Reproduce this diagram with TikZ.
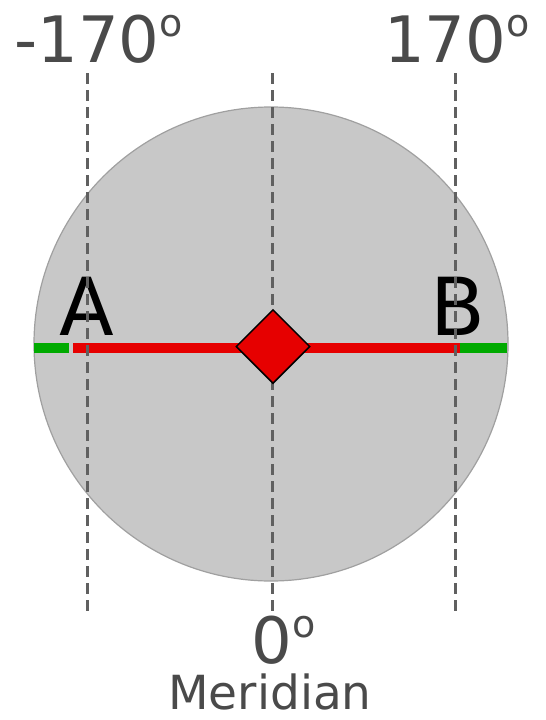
\documentclass[tikz,border=0pt]{standalone}
\usepackage{fontspec}
\setmainfont{DejaVu Sans}
\usetikzlibrary{shapes.geometric}
\definecolor{lblgray}{HTML}{4A4A4A}
\definecolor{dashgray}{HTML}{606060}
\definecolor{discgray}{HTML}{C8C8C8}
\definecolor{discedge}{HTML}{A0A0A0}
\definecolor{redline}{HTML}{E60000}
\definecolor{greenline}{HTML}{00AA00}
\newcommand{\degsign}{\raisebox{26pt}{\fontsize{38}{38}\selectfont o}}
\tikzset{
  meridianline/.style={draw=dashgray, line width=3pt, dash pattern=on 11pt off 6pt},
  redseg/.style={draw=redline, line width=9.5pt},
  greenseg/.style={draw=greenline, line width=9.5pt},
  biglabel/.style={font=\fontsize{64}{64}\selectfont, text=lblgray, inner sep=0pt, anchor=base},
  pointlabel/.style={font=\fontsize{80}{80}\selectfont, text=black, inner sep=0pt, anchor=base},
}
\begin{document}
\begin{tikzpicture}[x=1pt,y=-1pt]
\useasboundingbox (0,0) rectangle (546,720);
% disc
\node[circle, fill=discgray, draw=discedge, line width=1.2pt, minimum size=474pt, inner sep=0pt] (disc) at (271,344) {};
% equator segments
\coordinate (gl1) at (34,348);
\coordinate (gl2) at (69,348);
\coordinate (r1) at (73,348);
\coordinate (r2) at (460,348);
\coordinate (gr2) at (507,348);
\draw[greenseg] (gl1) -- (gl2);
\draw[redseg] (r1) -- (r2);
\draw[greenseg] (r2) -- (gr2);
% point labels
\node[pointlabel] (A) at (87,335) {A};
\node[pointlabel] (B) at (458,335) {B};
% dashed meridians
\coordinate (mlt) at (87,73);  \coordinate (mlb) at (87,612);
\coordinate (mct) at (272,73); \coordinate (mcb) at (272,612);
\coordinate (mrt) at (455,73); \coordinate (mrb) at (455,612);
\draw[meridianline] (mlt) -- (mlb);
\draw[meridianline] (mct) -- (mcb);
\draw[meridianline] (mrt) -- (mrb);
% diamond
\node[diamond, fill=redline, draw=black, line width=1.5pt, minimum width=74pt, minimum height=74pt, inner sep=0pt] (dia) at (273,346.5) {};
% longitude labels
\node[biglabel, anchor=base west] (lm) at (14,62) {-170\degsign};
\node[biglabel, anchor=base west] (lp) at (384,62) {170\degsign};
\node[biglabel] (lz) at (272,663) {0\rlap{\degsign}};
\node[font=\fontsize{47}{47}\selectfont, text=lblgray, inner sep=0pt, anchor=base] (mer) at (270,709) {Meridian};
\end{tikzpicture}
\end{document}
